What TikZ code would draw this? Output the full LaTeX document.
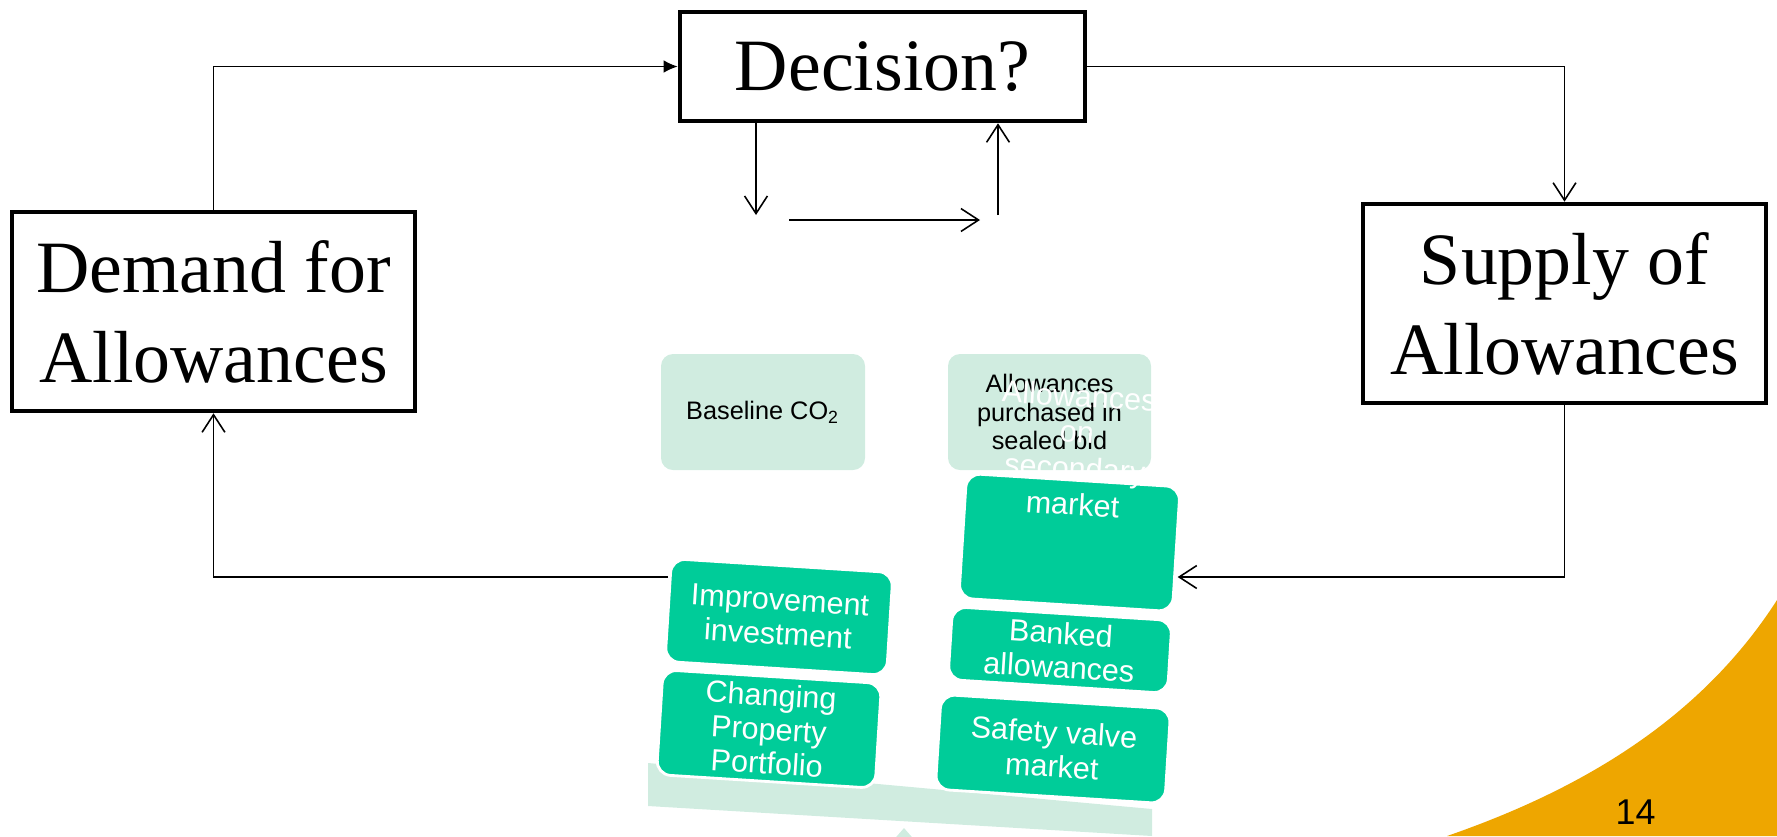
\documentclass[tikz,border=0pt]{standalone}
\usepackage{fontspec}
\setmainfont{Liberation Serif}
\setsansfont{Liberation Sans}
\usetikzlibrary{arrows.meta}
\tikzset{>/.tip={Straight Barb[length=5pt,width=6.5pt,line width=0.45pt]}}
\definecolor{palegreen}{HTML}{D0ECE0}
\definecolor{mint}{HTML}{00CC99}
\definecolor{swoosh}{HTML}{EEA600}
\tikzset{
  bigbox/.style={draw,line width=1.3pt,fill=white,align=center,inner sep=0pt,
    font=\fontsize{21}{25.6}\selectfont},
  pale/.style={fill=palegreen,rounded corners=1.2mm,align=center,inner sep=0pt,
    font=\sffamily\fontsize{7.2}{8.1}\selectfont},
  tile/.style={fill=mint,draw=white,line width=0.8pt,rounded corners=1.4mm,
    rotate=-3.6,align=center,inner sep=0pt,text=white,
    font=\sffamily\fontsize{8.7}{9.7}\selectfont},
}

\begin{document}
\begin{tikzpicture}[x=0.1mm,y=-0.1mm,line width=0.45pt]
      \useasboundingbox (0,0) rectangle (1777,836);
      \clip (0,0) rectangle (1777,836);
      \fill[swoosh] (1447,836) .. controls (1580,790) and (1700,720) .. (1777,600)
        -- (1777,836) -- cycle;
      \node[font=\sffamily\fontsize{10.2}{12}\selectfont](pg) at (1635.5,812){14};

      \node[bigbox,minimum width=40.5mm,minimum height=10.9mm](dec) at (882.5,66.5){Decision?};
      \node[bigbox,minimum width=40.3mm,minimum height=19.9mm](dem) at (213.5,311.5){Demand for\\Allowances};
      \node[bigbox,minimum width=40.3mm,minimum height=19.9mm](sup) at (1564.5,303.5){Supply of\\Allowances};

      \coordinate(bus) at (0,577);
      \coordinate(d1) at (756,215);
      \coordinate(h0) at (789,220);
      \coordinate(h1) at (980,220);
      \coordinate(u0) at (998,215);

      \node[pale,minimum width=20.4mm,minimum height=11.6mm](base) at (763,412){Baseline CO\textsubscript{2}};
      \node[pale,minimum width=20.3mm,minimum height=11.6mm](sealed) at (1049.5,412){Allowances\\purchased in\\sealed bid};

      \draw[-{Latex[length=4pt,width=3.6pt]}] (dem.north) |- (dec.west);
      \draw[->] (dec.east) -| (sup.north);
      \draw[->] (dec.south -| d1) -- (d1);
      \draw[->] (h0) -- (h1);
      \draw[->] (u0) -- (u0 |- dec.south);
      \draw[->] (bus -| 668,0) -| (dem.south);

      % tilted beam and its pivot
      \fill[palegreen] (648,763) -- (1152,809) -- (1152,836) -- (648,806) -- cycle;
      \fill[palegreen] (904,828) -- (850,890) -- (958,890) -- cycle;

      \node[tile,minimum width=21.9mm,minimum height=10.5mm](chg) at (769,729){Changing\\Property\\Portfolio};
      \node[tile,minimum width=22.2mm,minimum height=10.3mm](imp) at (779,617){Improvement\\investment};
      \node[tile,minimum width=23mm,minimum height=9.5mm](safe) at (1053,749){Safety valve\\market};
      \node[tile,minimum width=22mm,minimum height=7.3mm](bank) at (1060,650){Banked\\allowances};
      \node[tile,minimum width=21.4mm,minimum height=12.5mm](mkt) at (1069.5,542.5){};
      \node[rotate=-3.6,align=center,inner sep=0pt,text=white,
        font=\sffamily\fontsize{8.7}{10.3}\selectfont](mkttxt) at (1076,450){Allowances\\on\\secondary\\market};

      \draw[->] (sup.south) |- (bus -| mkt.east);
\end{tikzpicture}
\end{document}
